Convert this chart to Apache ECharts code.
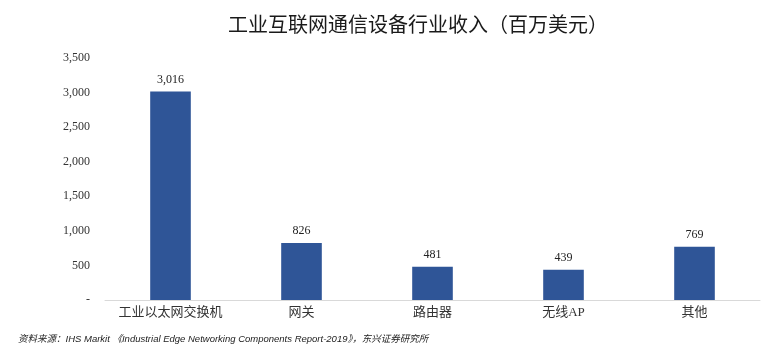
<!DOCTYPE html>
<html><head><meta charset="utf-8">
<script src="https://cdn.jsdelivr.net/npm/echarts@6/dist/echarts.min.js"></script>
<style>html,body{margin:0;padding:0;background:#fff}#c{width:779px;height:362px}</style>
</head><body><div id="c"></div>
<script>
const categories = ['工业以太网交换机', '网关', '路由器', '无线AP', '其他'];
const values = [3016, 826, 481, 439, 769];
const titleText = '工业互联网通信设备行业收入（百万美元）';
const sourceText = '资料来源：IHS Markit 《Industrial Edge Networking Components Report-2019》，东兴证券研究所';

const chart = echarts.init(document.getElementById('c'));
chart.setOption({
  animation: false,
  title: {
    text: titleText, left: 413, textAlign: 'center', top: 9,
    textStyle: {fontFamily: '"Noto Sans CJK SC"', fontSize: 20, fontWeight: 'normal', color: '#1a1a1a'}
  },
  graphic: [{
    type: 'text', left: 18, top: 335,
    style: {text: sourceText, fontFamily: '"Liberation Sans", "Noto Sans CJK SC"', fontStyle: 'italic', fontSize: 9.5, fill: '#222'}
  }],
  grid: {left: 105, right: 19, top: 58, bottom: 62},
  xAxis: {
    type: 'category', data: categories,
    axisLine: {lineStyle: {color: '#d9d9d9'}}, axisTick: {show: false},
    axisLabel: {interval: 0, fontFamily: '"Liberation Serif", "Noto Sans CJK SC"', fontSize: 13, color: '#333', margin: 6}
  },
  yAxis: {
    type: 'value', min: 0, max: 3500, interval: 500,
    splitLine: {show: false}, axisLine: {show: false}, axisTick: {show: false},
    axisLabel: {
      fontFamily: '"Liberation Serif"', fontSize: 12, color: '#333', margin: 15,
      formatter: v => v === 0 ? '-' : v.toLocaleString('en-US')
    }
  },
  series: [{
    type: 'bar', data: values, barWidth: '31%',
    itemStyle: {color: '#2F5597'},
    label: {show: true, position: 'top', distance: 6, fontFamily: '"Liberation Serif"', fontSize: 12, color: '#222',
      formatter: p => p.value.toLocaleString('en-US')}
  }]
});
</script></body></html>
